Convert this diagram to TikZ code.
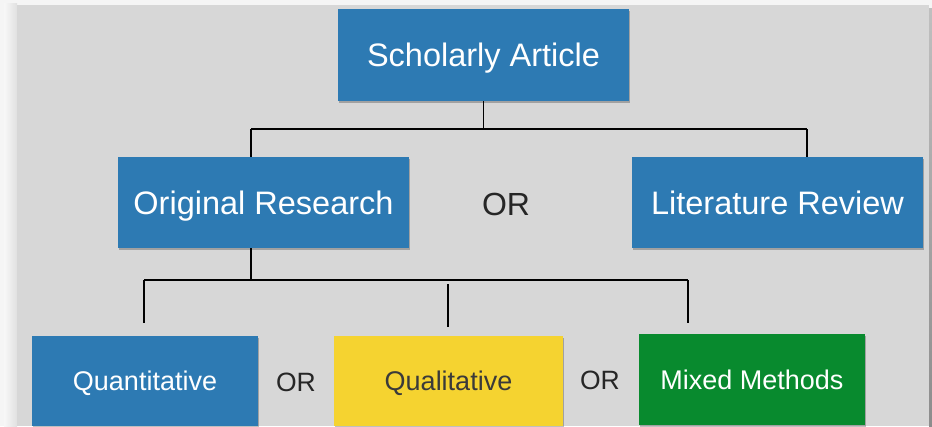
\documentclass[tikz,border=0pt]{standalone}
\usepackage{fontspec}
\setmainfont{Liberation Sans}
\usetikzlibrary{shadows}
\definecolor{bgray}{HTML}{D7D7D7}
\definecolor{boxblue}{HTML}{2D7AB3}
\definecolor{boxyellow}{HTML}{F5D330}
\definecolor{boxgreen}{HTML}{088A2E}
\definecolor{darktext}{HTML}{3A3A3A}
\tikzset{
  box/.style={rectangle, inner sep=0pt, text=white,
    drop shadow={shadow xshift=1pt, shadow yshift=-1.5pt, opacity=0.25, fill=black}},
  bigbox/.style={box, font=\fontsize{32.5}{36}\selectfont, text height=23.3pt, text depth=0pt},
  smallbox/.style={box, font=\fontsize{27}{30}\selectfont, text height=19.3pt, text depth=0pt},
  ortext/.style={text=black!85, inner sep=0pt, text depth=0pt},
  conn/.style={line width=1.3pt, black}
}
\begin{document}
\begin{tikzpicture}[x=1pt, y=-1pt]
\useasboundingbox (0,0) rectangle (932,426);
% page background
\fill[white!96!black] (0,0) rectangle (932,426);
\shade[left color=white!97!black, right color=white!88!black] (4,3) rectangle (17,426);
\fill[bgray] (17,5) rectangle (929,426);
\shade[top color=black!25, bottom color=black!45] (929,8) rectangle (932,426);
% nodes
\node[bigbox, fill=boxblue, minimum width=291pt, minimum height=92pt] (sa) at (483.5,55) {Scholarly Article};
\node[bigbox, fill=boxblue, minimum width=291pt, minimum height=91pt] (or) at (263.5,202.5) {Original Research};
\node[bigbox, fill=boxblue, minimum width=291pt, minimum height=91pt] (lr) at (777.5,202.5) {Literature Review};
\node[ortext, font=\fontsize{32}{36}\selectfont, text height=22.9pt] (or1) at (506,204) {OR};
\node[smallbox, fill=boxblue, minimum width=226pt, minimum height=90pt] (qn) at (145,381) {Quantitative};
\node[smallbox, fill=boxyellow, text=darktext, minimum width=229pt, minimum height=90pt] (ql) at (448.5,381) {Qualitative};
\node[smallbox, fill=boxgreen, minimum width=226pt, minimum height=91pt] (mm) at (752,379.5) {Mixed Methods};
\node[ortext, font=\fontsize{26.5}{30}\selectfont, text height=19pt] (or2) at (296,382) {OR};
\node[ortext, font=\fontsize{26.5}{30}\selectfont, text height=19pt] (or3) at (600,380) {OR};
% connectors
\coordinate (t1) at (251,129);
\coordinate (t2) at (807,129);
\draw[conn] (sa.south) -- (sa.south |- t1);
\draw[conn] (t1) -- (t2);
\draw[conn] (t1) -- (t1 |- or.north);
\draw[conn] (t2) -- (t2 |- lr.north);
\coordinate (b0) at (251,280);
\coordinate (b1) at (144,280);
\coordinate (b2) at (688,280);
\coordinate (b1e) at (144,323);
\coordinate (b2e) at (688,323);
\coordinate (m1) at (448,284);
\coordinate (m2) at (448,327);
\draw[conn] (b0 |- or.south) -- (b0);
\draw[conn] (b1) -- (b2);
\draw[conn] (b1) -- (b1e);
\draw[conn] (b2) -- (b2e);
\draw[conn] (m1) -- (m2);
\end{tikzpicture}
\end{document}
